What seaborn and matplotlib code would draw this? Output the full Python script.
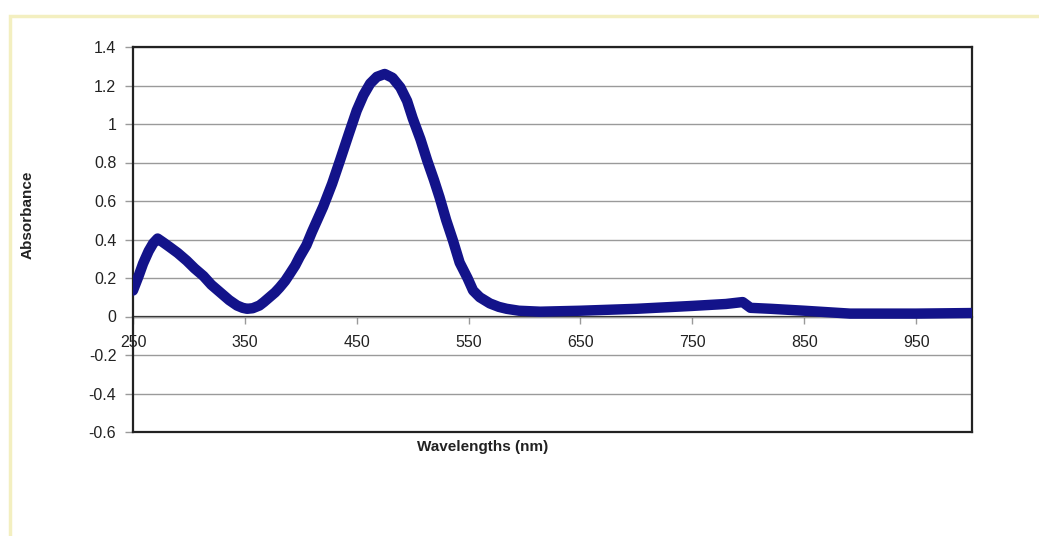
import matplotlib
matplotlib.use("Agg")
import matplotlib.pyplot as plt
import seaborn as sns
import pandas as pd
from matplotlib.patches import Rectangle

# Data
wavelength = [250, 255, 259, 264, 268, 272, 277, 283, 290, 298, 305, 313, 320, 328, 336, 343,
              348, 352, 357, 363, 367, 372, 377, 381, 386, 390, 395, 399, 405, 410, 415, 420,
              428, 435, 443, 450, 456, 462, 468, 475, 482, 489, 495, 500, 507, 513, 519, 524,
              530, 536, 542, 549, 554, 560, 569, 577, 584, 595, 614, 650, 700, 750, 780, 795,
              802, 820, 850, 891, 950, 1000]
absorbance = [0.135, 0.21, 0.275, 0.34, 0.38, 0.405, 0.385, 0.36, 0.33, 0.29, 0.25, 0.21, 0.165,
              0.125, 0.085, 0.057, 0.045, 0.04, 0.043, 0.057, 0.075, 0.10, 0.125, 0.15, 0.185,
              0.22, 0.265, 0.31, 0.37, 0.44, 0.505, 0.57, 0.69, 0.81, 0.95, 1.07, 1.15, 1.21,
              1.245, 1.26, 1.24, 1.19, 1.12, 1.03, 0.92, 0.81, 0.71, 0.62, 0.50, 0.395, 0.28,
              0.20, 0.135, 0.10, 0.068, 0.05, 0.04, 0.03, 0.025, 0.03, 0.04, 0.055, 0.065,
              0.075, 0.045, 0.04, 0.03, 0.015, 0.015, 0.018]
x_ticks = [250, 350, 450, 550, 650, 750, 850, 950]
y_ticks = [-0.6, -0.4, -0.2, 0, 0.2, 0.4, 0.6, 0.8, 1, 1.2, 1.4]
y_tick_labels = ["-0.6", "-0.4", "-0.2", "0", "0.2", "0.4", "0.6", "0.8", "1", "1.2", "1.4"]

df = pd.DataFrame({"Wavelength": wavelength, "Absorbance": absorbance})

sns.set_style("white")
plt.rcParams['font.family'] = ['Liberation Sans', 'DejaVu Sans']

fig = plt.figure(figsize=(10.39, 5.36), dpi=100)
fig.patch.set_facecolor("white")

# pale yellow chart-area border
fig.patches.append(Rectangle((10 / 1039, -0.1), 1.2, 1 - 16 / 536 + 0.1,
                             transform=fig.transFigure, fill=False,
                             edgecolor="#f3efc0", linewidth=2.5, zorder=0))

ax = fig.add_axes([133 / 1039, 1 - 432 / 536, (972 - 133) / 1039, (432 - 47) / 536])

ax.set_xlim(250, 1000)
ax.set_ylim(-0.6, 1.4)
ax.set_yticks(y_ticks)
ax.set_yticklabels(y_tick_labels)
ax.yaxis.grid(True, color="#9a9a9a", linewidth=1.0)
ax.set_axisbelow(True)

sns.lineplot(data=df, x="Wavelength", y="Absorbance", ax=ax, color="#13138a",
             linewidth=7.5, solid_capstyle="round", solid_joinstyle="round", zorder=3)

ax.set_xlabel("")
ax.set_ylabel("")
ax.set_xticks([])

for s in ax.spines.values():
    s.set_visible(True)
    s.set_color("#222222")
    s.set_linewidth(1.6)

ax.tick_params(axis="y", which="both", left=True, length=6, width=1.0, color="#9a9a9a",
               labelsize=11.5, labelcolor="#222222", pad=6)

# x axis crossing at y = 0
sec = ax.secondary_xaxis(0.3)
sec.set_xticks(x_ticks)
sec.set_xticklabels([str(t) for t in x_ticks])
sec.spines["bottom"].set_color("#222222")
sec.spines["bottom"].set_linewidth(1.6)
sec.tick_params(axis="x", length=5, width=1.0, color="#9a9a9a", labelsize=11.5,
                labelcolor="#222222", pad=8)

fig.text(28 / 1039, 1 - 215 / 536, "Absorbance", rotation=90, ha="center", va="center",
         fontsize=11, fontweight="bold", color="#222222")
fig.text(483 / 1039, 1 - 447 / 536, "Wavelengths (nm)", ha="center", va="center",
         fontsize=11, fontweight="bold", color="#222222")

fig.savefig("out.png", dpi=100, facecolor="white")
